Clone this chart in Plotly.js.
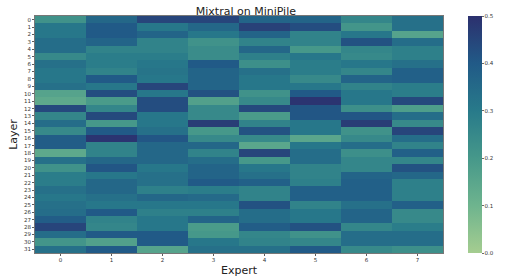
<!DOCTYPE html>
<html>
<head>
<meta charset="utf-8">
<script src="https://cdn.plot.ly/plotly-3.0.1.min.js"></script>
<style>html,body{margin:0;padding:0;background:#fff;}#chart{width:507px;height:277px;}</style>
</head>
<body>
<div id="chart"></div>
<script>
// Experts (columns) and layers (rows)
var experts = [0, 1, 2, 3, 4, 5, 6, 7];
var layers = [];
for (var i = 0; i < 32; i++) layers.push(i);

// Values per expert, layer 0..31
var e0 = [0.22,0.31,0.31,0.34,0.34,0.25,0.33,0.31,0.31,0.33,0.16,0.14,0.44,0.26,0.34,0.25,0.39,0.39,0.14,0.33,0.22,0.29,0.29,0.33,0.31,0.33,0.34,0.39,0.45,0.34,0.21,0.33];
var e1 = [0.36,0.40,0.40,0.37,0.27,0.29,0.29,0.27,0.40,0.31,0.43,0.19,0.26,0.44,0.20,0.40,0.49,0.27,0.27,0.36,0.41,0.31,0.36,0.36,0.33,0.31,0.40,0.27,0.26,0.40,0.17,0.40];
var e2 = [0.45,0.31,0.37,0.27,0.27,0.29,0.31,0.32,0.31,0.45,0.31,0.43,0.43,0.31,0.31,0.33,0.41,0.36,0.36,0.36,0.31,0.33,0.33,0.28,0.36,0.31,0.28,0.31,0.31,0.40,0.40,0.16];
var e3 = [0.45,0.36,0.31,0.22,0.24,0.24,0.40,0.37,0.37,0.37,0.42,0.17,0.25,0.25,0.47,0.20,0.25,0.36,0.27,0.34,0.37,0.37,0.40,0.29,0.35,0.31,0.28,0.37,0.19,0.20,0.31,0.33];
var e4 = [0.37,0.46,0.37,0.27,0.36,0.28,0.23,0.33,0.31,0.31,0.22,0.25,0.44,0.19,0.27,0.42,0.25,0.15,0.45,0.20,0.31,0.33,0.38,0.27,0.27,0.42,0.34,0.34,0.39,0.26,0.27,0.33];
var e5 = [0.37,0.43,0.27,0.27,0.20,0.31,0.29,0.29,0.25,0.31,0.40,0.49,0.41,0.41,0.31,0.31,0.15,0.31,0.34,0.34,0.27,0.27,0.28,0.38,0.38,0.27,0.31,0.31,0.42,0.22,0.26,0.40];
var e6 = [0.26,0.21,0.31,0.42,0.26,0.25,0.31,0.26,0.37,0.27,0.31,0.31,0.23,0.41,0.47,0.22,0.25,0.34,0.23,0.26,0.26,0.37,0.38,0.38,0.38,0.33,0.37,0.37,0.26,0.34,0.34,0.25];
var e7 = [0.33,0.33,0.16,0.34,0.28,0.28,0.33,0.38,0.38,0.29,0.29,0.44,0.18,0.34,0.25,0.45,0.34,0.27,0.38,0.26,0.42,0.36,0.28,0.28,0.28,0.38,0.25,0.25,0.29,0.34,0.34,0.23];

var cbTicks = [0.0, 0.1, 0.2, 0.3, 0.4, 0.5];

var crest = [
  [0.0, 'rgb(165,205,144)'],
  [0.2, 'rgb(110,180,142)'],
  [0.4, 'rgb(70,152,138)'],
  [0.6, 'rgb(40,122,138)'],
  [0.8, 'rgb(33,90,135)'],
  [1.0, 'rgb(44,48,110)']
];

var trace = {
  type: 'heatmap',
  x: experts,
  y: layers,
  z: [e0, e1, e2, e3, e4, e5, e6, e7],
  transpose: true,
  zmin: 0, zmax: 0.5,
  colorscale: crest,
  xgap: 0, ygap: 0,
  colorbar: {
    x: 1.062, xanchor: 'left',
    y: 0.5, yanchor: 'middle',
    len: 1, lenmode: 'fraction',
    thickness: 14,
    ypad: 0, xpad: 0,
    outlinewidth: 0,
    tickvals: cbTicks,
    ticktext: cbTicks.map(function(v){return v.toFixed(1);}),
    ticks: 'outside', ticklen: 2, tickcolor: '#444', tickwidth: 0.8,
    tickfont: {family: 'DejaVu Sans', size: 5.5, color: '#333'}
  }
};

var layout = {
  width: 507, height: 277,
  margin: {l: 35, r: 50, t: 16, b: 24},
  paper_bgcolor: '#fff', plot_bgcolor: '#fff',
  title: {text: 'Mixtral on MiniPile', font: {family: 'DejaVu Sans', size: 11, color: '#222'}, x: 0.485, xanchor: 'center', y: 0.975, yanchor: 'top'},
  xaxis: {
    title: {text: 'Expert', font: {family: 'DejaVu Sans', size: 11, color: '#222'}, standoff: 4},
    tickvals: experts, ticktext: experts.map(String),
    ticks: 'outside', ticklen: 2, tickcolor: '#333', tickwidth: 0.8,
    tickfont: {family: 'DejaVu Sans', size: 5.5, color: '#333'},
    showgrid: false, zeroline: false,
    showline: true, mirror: true, linecolor: '#555', linewidth: 0.8
  },
  yaxis: {
    title: {text: 'Layer', font: {family: 'DejaVu Sans', size: 11, color: '#222'}, standoff: 4},
    autorange: 'reversed',
    tickvals: layers, ticktext: layers.map(String),
    ticks: 'outside', ticklen: 2, tickcolor: '#333', tickwidth: 0.8,
    tickfont: {family: 'DejaVu Sans', size: 5.5, color: '#333'},
    showgrid: false, zeroline: false,
    showline: true, mirror: true, linecolor: '#555', linewidth: 0.8
  }
};

Plotly.newPlot('chart', [trace], layout, {displayModeBar: false, staticPlot: true});
</script>
</body>
</html>
